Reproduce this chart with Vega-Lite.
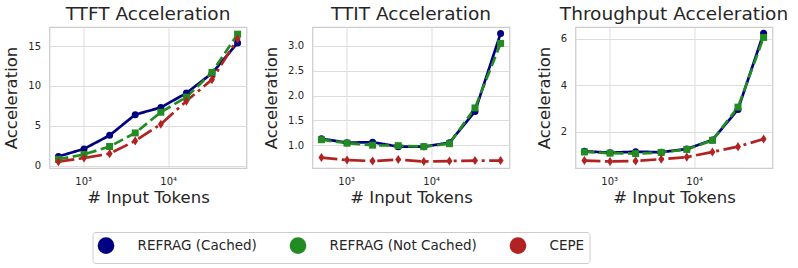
{
  "$schema": "https://vega.github.io/schema/vega-lite/v6.json",
  "padding": {"left": 2.5, "top": 3, "right": 4, "bottom": 4},
  "background": "white",
  "data": {"values": [
    {"metric": "TTFT", "tokens": 512, "method": "REFRAG (Cached)", "value": 1.15},
    {"metric": "TTFT", "tokens": 1024, "method": "REFRAG (Cached)", "value": 2.1},
    {"metric": "TTFT", "tokens": 2048, "method": "REFRAG (Cached)", "value": 3.8},
    {"metric": "TTFT", "tokens": 4096, "method": "REFRAG (Cached)", "value": 6.4},
    {"metric": "TTFT", "tokens": 8192, "method": "REFRAG (Cached)", "value": 7.3},
    {"metric": "TTFT", "tokens": 16384, "method": "REFRAG (Cached)", "value": 9.1},
    {"metric": "TTFT", "tokens": 32768, "method": "REFRAG (Cached)", "value": 11.6},
    {"metric": "TTFT", "tokens": 65536, "method": "REFRAG (Cached)", "value": 15.4},
    {"metric": "TTFT", "tokens": 512, "method": "REFRAG (Not Cached)", "value": 0.8},
    {"metric": "TTFT", "tokens": 1024, "method": "REFRAG (Not Cached)", "value": 1.4},
    {"metric": "TTFT", "tokens": 2048, "method": "REFRAG (Not Cached)", "value": 2.4},
    {"metric": "TTFT", "tokens": 4096, "method": "REFRAG (Not Cached)", "value": 4.1},
    {"metric": "TTFT", "tokens": 8192, "method": "REFRAG (Not Cached)", "value": 6.7},
    {"metric": "TTFT", "tokens": 16384, "method": "REFRAG (Not Cached)", "value": 8.6},
    {"metric": "TTFT", "tokens": 32768, "method": "REFRAG (Not Cached)", "value": 11.7},
    {"metric": "TTFT", "tokens": 65536, "method": "REFRAG (Not Cached)", "value": 16.5},
    {"metric": "TTFT", "tokens": 512, "method": "CEPE", "value": 0.5},
    {"metric": "TTFT", "tokens": 1024, "method": "CEPE", "value": 0.95},
    {"metric": "TTFT", "tokens": 2048, "method": "CEPE", "value": 1.5},
    {"metric": "TTFT", "tokens": 4096, "method": "CEPE", "value": 3.1},
    {"metric": "TTFT", "tokens": 8192, "method": "CEPE", "value": 5.2},
    {"metric": "TTFT", "tokens": 16384, "method": "CEPE", "value": 8.1},
    {"metric": "TTFT", "tokens": 32768, "method": "CEPE", "value": 10.8},
    {"metric": "TTFT", "tokens": 65536, "method": "CEPE", "value": 15.9},
    {"metric": "TTIT", "tokens": 512, "method": "REFRAG (Cached)", "value": 1.13},
    {"metric": "TTIT", "tokens": 1024, "method": "REFRAG (Cached)", "value": 1.05},
    {"metric": "TTIT", "tokens": 2048, "method": "REFRAG (Cached)", "value": 1.06},
    {"metric": "TTIT", "tokens": 4096, "method": "REFRAG (Cached)", "value": 0.97},
    {"metric": "TTIT", "tokens": 8192, "method": "REFRAG (Cached)", "value": 0.97},
    {"metric": "TTIT", "tokens": 16384, "method": "REFRAG (Cached)", "value": 1.05},
    {"metric": "TTIT", "tokens": 32768, "method": "REFRAG (Cached)", "value": 1.68},
    {"metric": "TTIT", "tokens": 65536, "method": "REFRAG (Cached)", "value": 3.25},
    {"metric": "TTIT", "tokens": 512, "method": "REFRAG (Not Cached)", "value": 1.11},
    {"metric": "TTIT", "tokens": 1024, "method": "REFRAG (Not Cached)", "value": 1.04},
    {"metric": "TTIT", "tokens": 2048, "method": "REFRAG (Not Cached)", "value": 1.0},
    {"metric": "TTIT", "tokens": 4096, "method": "REFRAG (Not Cached)", "value": 0.99},
    {"metric": "TTIT", "tokens": 8192, "method": "REFRAG (Not Cached)", "value": 0.97},
    {"metric": "TTIT", "tokens": 16384, "method": "REFRAG (Not Cached)", "value": 1.03},
    {"metric": "TTIT", "tokens": 32768, "method": "REFRAG (Not Cached)", "value": 1.75},
    {"metric": "TTIT", "tokens": 65536, "method": "REFRAG (Not Cached)", "value": 3.05},
    {"metric": "TTIT", "tokens": 512, "method": "CEPE", "value": 0.75},
    {"metric": "TTIT", "tokens": 1024, "method": "CEPE", "value": 0.7},
    {"metric": "TTIT", "tokens": 2048, "method": "CEPE", "value": 0.68},
    {"metric": "TTIT", "tokens": 4096, "method": "CEPE", "value": 0.71},
    {"metric": "TTIT", "tokens": 8192, "method": "CEPE", "value": 0.67},
    {"metric": "TTIT", "tokens": 16384, "method": "CEPE", "value": 0.68},
    {"metric": "TTIT", "tokens": 32768, "method": "CEPE", "value": 0.69},
    {"metric": "TTIT", "tokens": 65536, "method": "CEPE", "value": 0.69},
    {"metric": "Throughput", "tokens": 512, "method": "REFRAG (Cached)", "value": 1.15},
    {"metric": "Throughput", "tokens": 1024, "method": "REFRAG (Cached)", "value": 1.09},
    {"metric": "Throughput", "tokens": 2048, "method": "REFRAG (Cached)", "value": 1.13},
    {"metric": "Throughput", "tokens": 4096, "method": "REFRAG (Cached)", "value": 1.11},
    {"metric": "Throughput", "tokens": 8192, "method": "REFRAG (Cached)", "value": 1.25},
    {"metric": "Throughput", "tokens": 16384, "method": "REFRAG (Cached)", "value": 1.64},
    {"metric": "Throughput", "tokens": 32768, "method": "REFRAG (Cached)", "value": 2.95},
    {"metric": "Throughput", "tokens": 65536, "method": "REFRAG (Cached)", "value": 6.23},
    {"metric": "Throughput", "tokens": 512, "method": "REFRAG (Not Cached)", "value": 1.12},
    {"metric": "Throughput", "tokens": 1024, "method": "REFRAG (Not Cached)", "value": 1.07},
    {"metric": "Throughput", "tokens": 2048, "method": "REFRAG (Not Cached)", "value": 1.05},
    {"metric": "Throughput", "tokens": 4096, "method": "REFRAG (Not Cached)", "value": 1.1},
    {"metric": "Throughput", "tokens": 8192, "method": "REFRAG (Not Cached)", "value": 1.23},
    {"metric": "Throughput", "tokens": 16384, "method": "REFRAG (Not Cached)", "value": 1.62},
    {"metric": "Throughput", "tokens": 32768, "method": "REFRAG (Not Cached)", "value": 3.05},
    {"metric": "Throughput", "tokens": 65536, "method": "REFRAG (Not Cached)", "value": 6.05},
    {"metric": "Throughput", "tokens": 512, "method": "CEPE", "value": 0.75},
    {"metric": "Throughput", "tokens": 1024, "method": "CEPE", "value": 0.71},
    {"metric": "Throughput", "tokens": 2048, "method": "CEPE", "value": 0.73},
    {"metric": "Throughput", "tokens": 4096, "method": "CEPE", "value": 0.81},
    {"metric": "Throughput", "tokens": 8192, "method": "CEPE", "value": 0.9},
    {"metric": "Throughput", "tokens": 16384, "method": "CEPE", "value": 1.12},
    {"metric": "Throughput", "tokens": 32768, "method": "CEPE", "value": 1.35},
    {"metric": "Throughput", "tokens": 65536, "method": "CEPE", "value": 1.68}
  ]},
  "spacing": 66,
  "bounds": "flush",
  "resolve": {"scale": {"color": "shared", "strokeDash": "shared", "shape": "shared"}, "legend": {"color": "shared"}},
  "hconcat": [
    {
      "title": "TTFT Acceleration",
      "width": 197, "height": 141,
      "transform": [{"filter": "datum.metric === 'TTFT'"}],
      "encoding": {
        "x": {"field": "tokens", "type": "quantitative", "scale": {"type": "log", "domain": [402, 83400], "nice": false}, "axis": {"values": [1000, 10000], "labelExpr": "datum.value == 1000 ? '10³' : '10⁴'", "title": "# Input Tokens"}},
        "y": {"field": "value", "type": "quantitative", "scale": {"domain": [-0.3, 17.4], "nice": false, "zero": false}, "axis": {"values": [0, 5, 10, 15], "title": "Acceleration"}}
      },
      "layer": [
        {"mark": {"type": "line", "strokeWidth": 2.7}, "encoding": {
          "color": {"field": "method", "type": "nominal", "scale": {"domain": ["REFRAG (Cached)", "REFRAG (Not Cached)", "CEPE"], "range": ["#000080", "#228B22", "#B22222"]}},
          "strokeDash": {"field": "method", "type": "nominal", "scale": {"domain": ["CEPE", "REFRAG (Cached)", "REFRAG (Not Cached)"], "range": [[16, 4.5, 3, 4.5], [1, 0], [10, 4.5]]}, "legend": null}}},
        {"mark": {"type": "point", "filled": true, "opacity": 1, "size": 49}, "encoding": {
          "color": {"field": "method", "type": "nominal", "scale": {"domain": ["REFRAG (Cached)", "REFRAG (Not Cached)", "CEPE"], "range": ["#000080", "#228B22", "#B22222"]},
            "legend": {"orient": "none", "legendX": 43, "legendY": 205, "direction": "horizontal", "title": null,
              "symbolSize": 196, "symbolStrokeWidth": 2.7, "labelFontSize": 13.5, "labelOffset": 23, "columnPadding": 28, "padding": 5,
              "strokeColor": "#cccccc", "cornerRadius": 3, "fillColor": "white", "labelColor": "#262626",
              "encode": {"symbols": {
                "shape": {"value": {"expr": "datum.value === 'CEPE' ? 'M-1,0H3M1,-0.5L1.25,0L1,0.5L0.75,0Z' : datum.value === 'REFRAG (Cached)' ? 'M-1,0H3M0.8,0A0.2,0.2 0 1 0 1.2,0A0.2,0.2 0 1 0 0.8,0Z' : 'M-1,0H3M0.8,-0.2H1.2V0.2H0.8Z'"}},
                "strokeDash": {"value": {"expr": "datum.value === 'CEPE' ? [12,3.5,2.5,3.5] : datum.value === 'REFRAG (Cached)' ? [1,0] : [7,3.5]"}},
                "stroke": {"value": {"expr": "datum.value === 'CEPE' ? '#B22222' : datum.value === 'REFRAG (Cached)' ? '#000080' : '#228B22'"}},
                "fill": {"value": {"expr": "datum.value === 'CEPE' ? '#B22222' : datum.value === 'REFRAG (Cached)' ? '#000080' : '#228B22'"}},
                "size": {"value": 196},
                "strokeWidth": {"value": 2.7}
              }}}},
          "shape": {"field": "method", "type": "nominal", "scale": {"domain": ["CEPE", "REFRAG (Cached)", "REFRAG (Not Cached)"], "range": ["M0,-1.3L0.85,0L0,1.3L-0.85,0Z", "circle", "square"]}, "legend": null}}}
      ]
    },
    {
      "title": "TTIT Acceleration",
      "width": 197, "height": 141,
      "transform": [{"filter": "datum.metric === 'TTIT'"}],
      "encoding": {
        "x": {"field": "tokens", "type": "quantitative", "scale": {"type": "log", "domain": [402, 83400], "nice": false}, "axis": {"values": [1000, 10000], "labelExpr": "datum.value == 1000 ? '10³' : '10⁴'", "title": "# Input Tokens"}},
        "y": {"field": "value", "type": "quantitative", "scale": {"domain": [0.54, 3.38], "nice": false, "zero": false}, "axis": {"values": [1, 1.5, 2, 2.5, 3], "format": ".1f", "title": "Acceleration"}}
      },
      "layer": [
        {"mark": {"type": "line", "strokeWidth": 2.7}, "encoding": {
          "color": {"field": "method", "type": "nominal", "scale": {"domain": ["REFRAG (Cached)", "REFRAG (Not Cached)", "CEPE"], "range": ["#000080", "#228B22", "#B22222"]}},
          "strokeDash": {"field": "method", "type": "nominal", "scale": {"domain": ["CEPE", "REFRAG (Cached)", "REFRAG (Not Cached)"], "range": [[16, 4.5, 3, 4.5], [1, 0], [10, 4.5]]}, "legend": null}}},
        {"mark": {"type": "point", "filled": true, "opacity": 1, "size": 49}, "encoding": {
          "color": {"field": "method", "type": "nominal", "scale": {"domain": ["REFRAG (Cached)", "REFRAG (Not Cached)", "CEPE"], "range": ["#000080", "#228B22", "#B22222"]}},
          "shape": {"field": "method", "type": "nominal", "scale": {"domain": ["CEPE", "REFRAG (Cached)", "REFRAG (Not Cached)"], "range": ["M0,-1.3L0.85,0L0,1.3L-0.85,0Z", "circle", "square"]}, "legend": null}}}
      ]
    },
    {
      "title": "Throughput Acceleration",
      "width": 197, "height": 141,
      "transform": [{"filter": "datum.metric === 'Throughput'"}],
      "encoding": {
        "x": {"field": "tokens", "type": "quantitative", "scale": {"type": "log", "domain": [402, 83400], "nice": false}, "axis": {"values": [1000, 10000], "labelExpr": "datum.value == 1000 ? '10³' : '10⁴'", "title": "# Input Tokens"}},
        "y": {"field": "value", "type": "quantitative", "scale": {"domain": [0.43, 6.5], "nice": false, "zero": false}, "axis": {"values": [2, 4, 6], "title": "Acceleration"}}
      },
      "layer": [
        {"mark": {"type": "line", "strokeWidth": 2.7}, "encoding": {
          "color": {"field": "method", "type": "nominal", "scale": {"domain": ["REFRAG (Cached)", "REFRAG (Not Cached)", "CEPE"], "range": ["#000080", "#228B22", "#B22222"]}},
          "strokeDash": {"field": "method", "type": "nominal", "scale": {"domain": ["CEPE", "REFRAG (Cached)", "REFRAG (Not Cached)"], "range": [[16, 4.5, 3, 4.5], [1, 0], [10, 4.5]]}, "legend": null}}},
        {"mark": {"type": "point", "filled": true, "opacity": 1, "size": 49}, "encoding": {
          "color": {"field": "method", "type": "nominal", "scale": {"domain": ["REFRAG (Cached)", "REFRAG (Not Cached)", "CEPE"], "range": ["#000080", "#228B22", "#B22222"]}},
          "shape": {"field": "method", "type": "nominal", "scale": {"domain": ["CEPE", "REFRAG (Cached)", "REFRAG (Not Cached)"], "range": ["M0,-1.3L0.85,0L0,1.3L-0.85,0Z", "circle", "square"]}, "legend": null}}}
      ]
    }
  ],
  "config": {
    "font": "DejaVu Sans",
    "view": {"stroke": "#cccccc", "strokeWidth": 1.25},
    "axis": {"grid": true, "gridColor": "#dddddd", "gridWidth": 1, "domain": false, "ticks": false,
      "labelColor": "#262626", "titleColor": "#262626", "labelFontSize": 10, "titleFontSize": 16.5, "titleFontWeight": "normal"},
    "axisY": {"labelPadding": 9, "titlePadding": 8},
    "axisX": {"labelPadding": 8, "titlePadding": 3},
    "title": {"fontSize": 18.5, "fontWeight": "normal", "color": "#262626", "offset": 4}
  }
}
